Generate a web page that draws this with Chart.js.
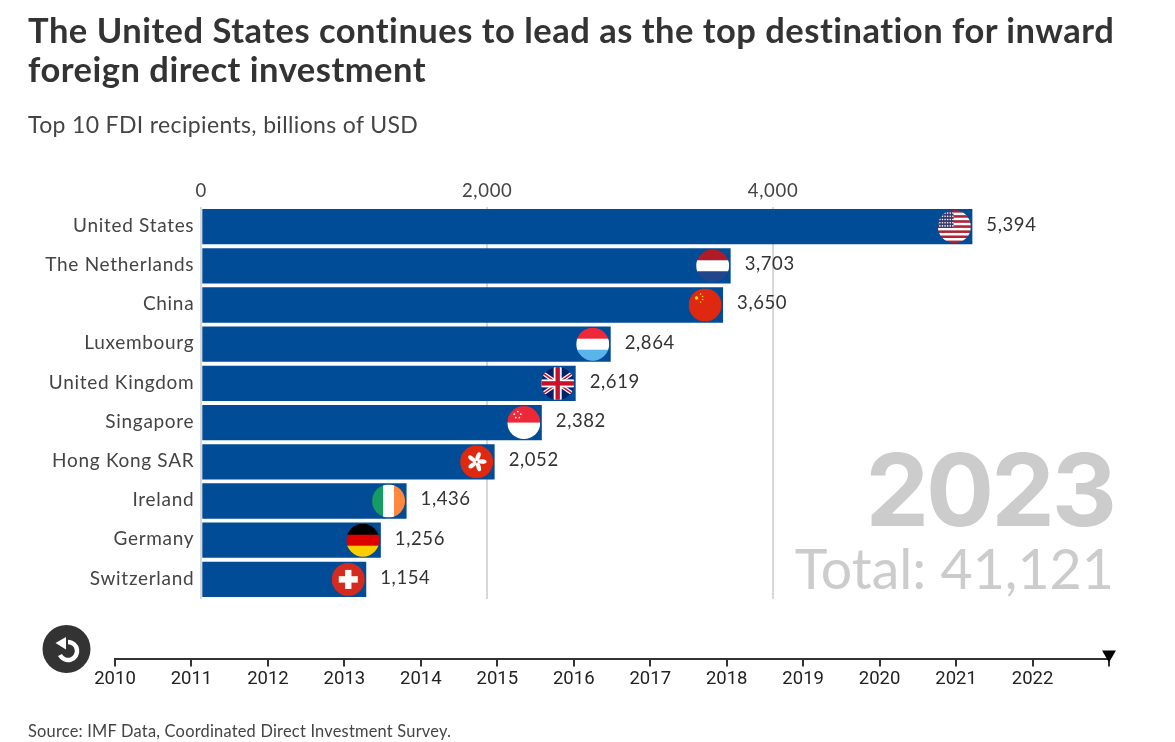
<!DOCTYPE html>
<html>
<head>
<meta charset="utf-8">
<title>Top 10 FDI recipients</title>
<script src="https://cdn.jsdelivr.net/npm/chart.js@4"></script>
<style>
  html, body { margin: 0; padding: 0; background: #fff; overflow: hidden; }
  #page { position: relative; width: 1175px; height: 742px; font-family: Lato, sans-serif; }
  canvas { position: absolute; left: 0; display: block; }
  .txt { position: absolute; white-space: nowrap; }
  #title { left: 28px; top: 10px; font-size: 34.5px; line-height: 39px; font-weight: 700; color: #333; letter-spacing: .5px; }
  #subtitle { left: 28px; top: 110px; font-size: 23px; line-height: 28px; color: #444; letter-spacing: .35px; }
  #source { left: 28px; top: 721px; font-size: 16.4px; line-height: 20px; color: #444; letter-spacing: .22px; }
  #bigYear { right: 61px; top: 429px; font-family: Inter, sans-serif; font-size: 101px; line-height: 120px; font-weight: 700; color: #ccc; letter-spacing: -3px; }
  #bigTotal { right: 61px; top: 533px; font-size: 55.5px; line-height: 70px; font-weight: 400; color: #ccc; }
  #replay { position: absolute; left: 42px; top: 625px; }
</style>
</head>
<body>
<div id="page">
  <canvas id="barChart" width="1175" height="742" style="top:0"></canvas>
  <canvas id="timeline" width="1175" height="80" style="top:630px"></canvas>
  <div class="txt" id="title"></div>
  <div class="txt" id="subtitle"></div>
  <div class="txt" id="source"></div>
  <div class="txt" id="bigYear"></div>
  <div class="txt" id="bigTotal"></div>
  <svg id="replay" width="49" height="48" viewBox="0 0 49 48">
    <circle cx="24.5" cy="24" r="24" fill="#333"/>
    <path d="M26 17 A9 9 0 1 1 18 30" fill="none" stroke="#fff" stroke-width="4.5"/>
    <path d="M13.5 18 L24 12 L24 24.5 Z" fill="#fff"/>
  </svg>
</div>

<script>
const titleLines = ['The United States continues to lead as the top destination for inward', 'foreign direct investment'];
const subtitle = 'Top 10 FDI recipients, billions of USD';
const source = 'Source: IMF Data, Coordinated Direct Investment Survey.';

const countries = ['United States', 'The Netherlands', 'China', 'Luxembourg', 'United Kingdom', 'Singapore', 'Hong Kong SAR', 'Ireland', 'Germany', 'Switzerland'];
const fdiValues = [5394, 3703, 3650, 2864, 2619, 2382, 2052, 1436, 1256, 1154];
const valueTicks = [0, 2000, 4000];
const flagCodes = ['us', 'nl', 'cn', 'lu', 'gb', 'sg', 'hk', 'ie', 'de', 'ch'];

const years = [2010, 2011, 2012, 2013, 2014, 2015, 2016, 2017, 2018, 2019, 2020, 2021, 2022, 2023];
const currentYear = 2023;
const totalFdi = 41121;

document.getElementById('title').innerHTML = titleLines.join('<br>');
document.getElementById('subtitle').textContent = subtitle;
document.getElementById('source').textContent = source;
document.getElementById('bigYear').textContent = currentYear;
document.getElementById('bigTotal').textContent = 'Total: ' + totalFdi.toLocaleString('en-US');

// flags are painted inside a box of side 2r around the circle centre
function hStripes(ctx, r, colors) {
    const h = 2 * r / colors.length;
    colors.forEach((c, i) => {
        ctx.fillStyle = c;
        ctx.fillRect(-r, -r + i * h, 2 * r, h + 0.5);
    });
}
function vStripes(ctx, r, colors) {
    const w = 2 * r / colors.length;
    colors.forEach((c, i) => {
        ctx.fillStyle = c;
        ctx.fillRect(-r + i * w, -r, w + 0.5, 2 * r);
    });
}
function dots(ctx, color, size, list) {
    ctx.fillStyle = color;
    list.forEach(p => {
        ctx.beginPath();
        ctx.arc(p[0], p[1], size, 0, Math.PI * 2);
        ctx.fill();
    });
}
const flagPainters = {
    us(ctx, r) {
        const stripes = [];
        for (let i = 0; i < 13; i++) stripes.push(i % 2 ? '#fff' : '#b22234');
        hStripes(ctx, r, stripes);
        ctx.fillStyle = '#3c3b6e';
        ctx.fillRect(-r, -r, r * 0.95, r * 1.08);
        const list = [];
        for (let a = 0; a < 6; a++) for (let b = 0; b < 5; b++) list.push([-r + 2 + a * 2.6, -r + 3 + b * 3.2]);
        dots(ctx, '#fff', 0.8, list);
    },
    nl(ctx, r) { hStripes(ctx, r, ['#ae1c28', '#fff', '#21468b']); },
    cn(ctx, r) {
        ctx.fillStyle = '#de2910';
        ctx.fillRect(-r, -r, 2 * r, 2 * r);
        dots(ctx, '#ffde00', 1.8, [[-8.5, -7]]);
        dots(ctx, '#ffde00', 0.8, [[-4.5, -11], [-2.5, -8.5], [-2.5, -5.5], [-4.5, -3]]);
    },
    lu(ctx, r) { hStripes(ctx, r, ['#ed2939', '#fff', '#5ab4ea']); },
    gb(ctx, r) {
        ctx.fillStyle = '#012169';
        ctx.fillRect(-r, -r, 2 * r, 2 * r);
        ctx.strokeStyle = '#fff';
        ctx.lineWidth = 4;
        ctx.beginPath(); ctx.moveTo(-r, -r * 0.7); ctx.lineTo(r, r * 0.7); ctx.moveTo(-r, r * 0.7); ctx.lineTo(r, -r * 0.7); ctx.stroke();
        ctx.strokeStyle = '#c8102e';
        ctx.lineWidth = 1.5;
        ctx.stroke();
        ctx.fillStyle = '#fff';
        ctx.fillRect(-r, -4, 2 * r, 8);
        ctx.fillRect(-4, -r, 8, 2 * r);
        ctx.fillStyle = '#c8102e';
        ctx.fillRect(-r, -2.2, 2 * r, 4.4);
        ctx.fillRect(-2.2, -r, 4.4, 2 * r);
    },
    sg(ctx, r) {
        hStripes(ctx, r, ['#ed2939', '#fff']);
        dots(ctx, '#fff', 0.9, [[-9.5, -8.5], [-6, -11], [-3, -8.5], [-4.5, -5], [-8, -5]]);
    },
    hk(ctx, r) {
        ctx.fillStyle = '#de2910';
        ctx.fillRect(-r, -r, 2 * r, 2 * r);
        ctx.fillStyle = '#fff';
        for (let i = 0; i < 5; i++) {
            ctx.save();
            ctx.rotate(i * Math.PI * 2 / 5);
            ctx.beginPath();
            ctx.ellipse(1.4, -5.2, 2.2, 4.6, 0.35, 0, Math.PI * 2);
            ctx.fill();
            ctx.restore();
        }
    },
    ie(ctx, r) { vStripes(ctx, r, ['#169b62', '#fff', '#ff883e']); },
    de(ctx, r) { hStripes(ctx, r, ['#000', '#dd0000', '#ffce00']); },
    ch(ctx, r) {
        ctx.fillStyle = '#d52b1e';
        ctx.fillRect(-r, -r, 2 * r, 2 * r);
        ctx.fillStyle = '#fff';
        ctx.fillRect(-9.5, -3.2, 19, 6.4);
        ctx.fillRect(-3.2, -9.5, 6.4, 19);
    }
};

const barEndExtras = {
    id: 'barEndExtras',
    beforeDraw(chart) {
        chart.ctx.letterSpacing = '0.7px';
    },
    afterDatasetsDraw(chart) {
        const ctx = chart.ctx;
        chart.getDatasetMeta(0).data.forEach((bar, i) => {
            ctx.save();
            ctx.translate(bar.x - 18, bar.y);
            ctx.beginPath();
            ctx.arc(0, 0, 16.5, 0, Math.PI * 2);
            ctx.clip();
            flagPainters[flagCodes[i]](ctx, 16.5);
            ctx.restore();

            ctx.save();
            ctx.font = '18.5px Lato';
            ctx.letterSpacing = '0.6px';
            ctx.fillStyle = '#333';
            ctx.textAlign = 'left';
            ctx.textBaseline = 'middle';
            ctx.fillText(fdiValues[i].toLocaleString('en-US'), bar.x + 14, bar.y - 1.5);
            ctx.restore();
        });
    }
};

new Chart(document.getElementById('barChart'), {
    type: 'bar',
    data: {
        labels: countries,
        datasets: [{
            data: fdiValues,
            backgroundColor: '#004c97',
            borderWidth: 0,
            barPercentage: 0.9,
            categoryPercentage: 1
        }]
    },
    options: {
        indexAxis: 'y',
        responsive: false,
        animation: false,
        layout: { padding: { left: 0, top: 170, right: 116, bottom: 143 } },
        plugins: { legend: { display: false }, tooltip: { enabled: false } },
        scales: {
            x: {
                position: 'top',
                min: 0,
                max: 6000,
                afterFit(scale) { scale.height = 37; },
                afterBuildTicks(scale) { scale.ticks = valueTicks.map(v => ({ value: v })); },
                border: { display: false },
                grid: { color: '#d8d8d8', lineWidth: 2, drawTicks: false },
                ticks: {
                    padding: 5,
                    color: '#444',
                    font: { family: 'Lato', size: 18.5 },
                    callback: v => v.toLocaleString('en-US')
                }
            },
            y: {
                afterFit(scale) { scale.width = 201.3; },
                border: { display: false },
                grid: { display: false, drawTicks: false },
                ticks: {
                    padding: 7,
                    labelOffset: -1,
                    color: '#444',
                    autoSkip: false,
                    font: { family: 'Lato', size: 19 }
                }
            }
        }
    },
    plugins: [barEndExtras]
});

new Chart(document.getElementById('timeline'), {
    type: 'scatter',
    data: {
        datasets: [{
            data: [{ x: currentYear, y: 0.2 }],
            pointStyle: 'triangle',
            rotation: 180,
            pointRadius: 8,
            backgroundColor: '#000',
            borderWidth: 0,
            clip: false
        }]
    },
    options: {
        responsive: false,
        animation: false,
        layout: { padding: { left: 115, right: 66, top: 0, bottom: 0 } },
        plugins: { legend: { display: false }, tooltip: { enabled: false } },
        scales: {
            y: { display: false, min: 0, max: 1 },
            x: {
                type: 'linear',
                min: years[0],
                max: years[years.length - 1],
                afterFit(scale) { scale.height = 51.5; },
                afterBuildTicks(scale) { scale.ticks = years.map(v => ({ value: v })); },
                border: { color: '#333', width: 2 },
                grid: { drawOnChartArea: false, color: '#333', lineWidth: 2, tickLength: 8 },
                ticks: {
                    padding: 2,
                    color: '#222',
                    maxRotation: 0,
                    autoSkip: false,
                    font: { family: 'Roboto', size: 18.5 },
                    callback: v => (v === currentYear ? '' : String(v))
                }
            }
        }
    }
});
</script>
</body>
</html>
